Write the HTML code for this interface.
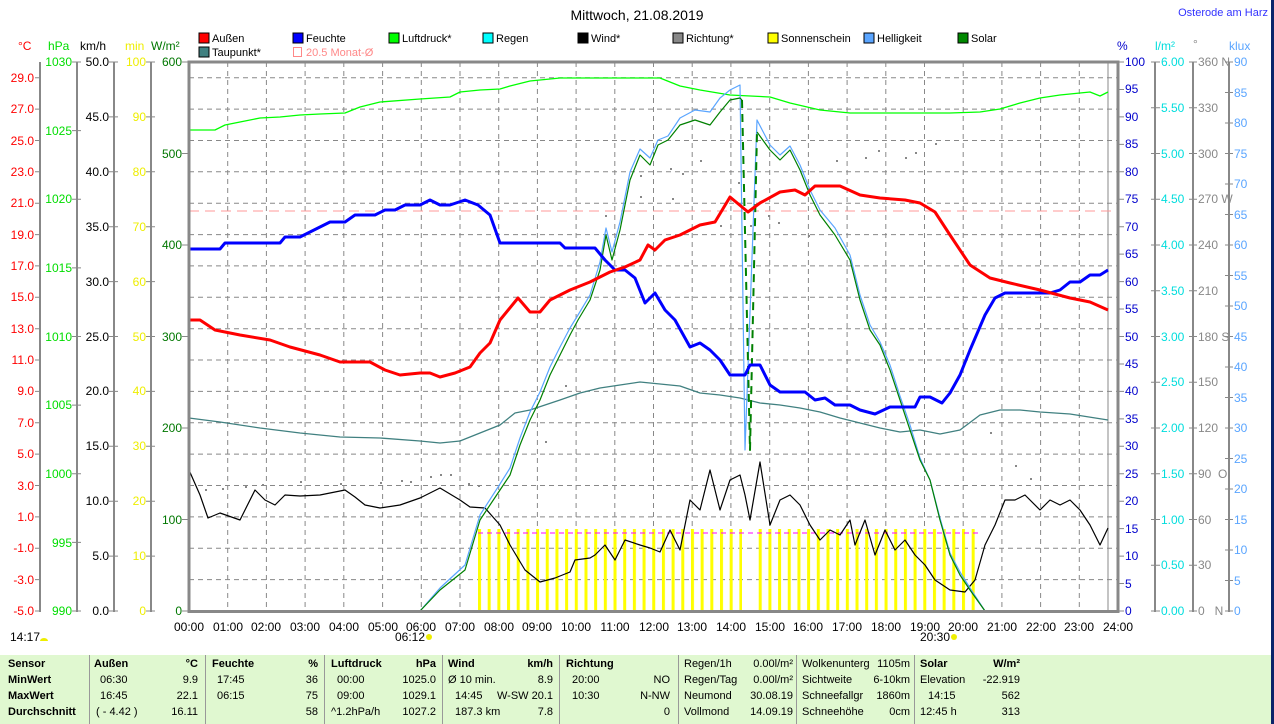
<!DOCTYPE html>
<html><head><meta charset="utf-8"><style>
body{margin:0;background:#fff;width:1274px;height:724px;overflow:hidden;position:relative;font-family:"Liberation Sans",sans-serif}
svg{position:absolute;left:0;top:0}
.tb{position:absolute;left:0;top:655px;width:1271px;height:69px;background:#e0f8d0;font-family:"Liberation Sans Narrow","Liberation Sans",sans-serif;font-size:11px}
.tb div{position:absolute;white-space:nowrap}
.b{font-weight:bold}
.r{text-align:right}
.v{top:0;height:69px;width:1px;background:#999}
</style></head><body>
<svg width="1274" height="724" font-family="Liberation Sans, sans-serif" font-size="12">
<rect x="1271" y="0" width="3" height="724" fill="#0a246a"/>
<text x="637" y="20" text-anchor="middle" font-size="14">Mittwoch, 21.08.2019</text>
<text x="1268" y="16" text-anchor="end" fill="#3333ff" font-size="11">Osterode am Harz</text>
<g font-size="11">
<rect x="199" y="33" width="10" height="10" fill="#f00" stroke="#000"/><text x="212" y="42">Außen</text>
<rect x="293" y="33" width="10" height="10" fill="#00f" stroke="#000"/><text x="306" y="42">Feuchte</text>
<rect x="389" y="33" width="10" height="10" fill="#0f0" stroke="#000"/><text x="402" y="42">Luftdruck*</text>
<rect x="483" y="33" width="10" height="10" fill="#0ff" stroke="#000"/><text x="496" y="42">Regen</text>
<rect x="578" y="33" width="10" height="10" fill="#000" stroke="#000"/><text x="591" y="42">Wind*</text>
<rect x="673" y="33" width="10" height="10" fill="#888" stroke="#000"/><text x="686" y="42">Richtung*</text>
<rect x="768" y="33" width="10" height="10" fill="#ff0" stroke="#000"/><text x="781" y="42">Sonnenschein</text>
<rect x="864" y="33" width="10" height="10" fill="#5aa5ff" stroke="#000"/><text x="877" y="42">Helligkeit</text>
<rect x="958" y="33" width="10" height="10" fill="#080" stroke="#000"/><text x="971" y="42">Solar</text>
<rect x="199" y="47" width="10" height="10" fill="#408080" stroke="#000"/><text x="212" y="56">Taupunkt*</text>
<rect x="293.5" y="47.5" width="8" height="9" fill="none" stroke="#f88"/><text x="306" y="56" fill="#f88">20.5 Monat-Ø</text>
</g>
<g font-size="12">
<text x="18" y="50" fill="#f00">°C</text>
<text x="48" y="50" fill="#0d0">hPa</text>
<text x="80" y="50" fill="#000">km/h</text>
<text x="125" y="50" fill="#ee0">min</text>
<text x="151" y="50" fill="#070">W/m²</text>
<text x="1117" y="50" fill="#00c">%</text>
<text x="1155" y="50" fill="#0dd">l/m²</text>
<text x="1193" y="48" fill="#888">°</text>
<text x="1229" y="50" fill="#5aa5ff">klux</text>
</g>
<g stroke="#888" stroke-width="2">
<line x1="40" y1="62" x2="40" y2="612"/><line x1="77" y1="62" x2="77" y2="612"/>
<line x1="114" y1="62" x2="114" y2="612"/><line x1="151" y1="62" x2="151" y2="612"/>
<line x1="1155" y1="62" x2="1155" y2="612"/><line x1="1193" y1="62" x2="1193" y2="612"/>
<line x1="1229" y1="62" x2="1229" y2="612"/>
</g>
<g fill="#f00" text-anchor="end">
<text x="34" y="615">-5.0</text><text x="34" y="584">-3.0</text><text x="34" y="552">-1.0</text><text x="34" y="521">1.0</text><text x="34" y="490">3.0</text><text x="34" y="458">5.0</text><text x="34" y="427">7.0</text><text x="34" y="395">9.0</text><text x="34" y="364">11.0</text><text x="34" y="333">13.0</text><text x="34" y="301">15.0</text><text x="34" y="270">17.0</text><text x="34" y="239">19.0</text><text x="34" y="207">21.0</text><text x="34" y="176">23.0</text><text x="34" y="145">25.0</text><text x="34" y="113">27.0</text><text x="34" y="82">29.0</text>
</g>
<g stroke="#888"><path d="M35 611H40M35 579.6H40M35 548.3H40M35 516.9H40M35 485.5H40M35 454.1H40M35 422.8H40M35 391.4H40M35 360H40M35 328.7H40M35 297.3H40M35 265.9H40M35 234.6H40M35 203.2H40M35 171.8H40M35 140.5H40M35 109.1H40M35 77.7H40"/>
<path d="M72 611H81M72 542.4H81M72 473.8H81M72 405.1H81M72 336.5H81M72 267.9H81M72 199.3H81M72 130.6H81M72 62H81"/>
<path d="M109 611H118M109 556.1H118M109 501.2H118M109 446.3H118M109 391.4H118M109 336.5H118M109 281.6H118M109 226.7H118M109 171.8H118M109 116.9H118M109 62H118"/>
<path d="M146 611H155M146 556.1H155M146 501.2H155M146 446.3H155M146 391.4H155M146 336.5H155M146 281.6H155M146 226.7H155M146 171.8H155M146 116.9H155M146 62H155"/>
<path d="M182 611H188M182 519.5H188M182 428H188M182 336.5H188M182 245H188M182 153.5H188M182 62H188"/>
<path d="M1118 611H1124M1118 583.55H1124M1118 556.1H1124M1118 528.65H1124M1118 501.2H1124M1118 473.75H1124M1118 446.3H1124M1118 418.85H1124M1118 391.4H1124M1118 363.95H1124M1118 336.5H1124M1118 309.05H1124M1118 281.6H1124M1118 254.15H1124M1118 226.7H1124M1118 199.25H1124M1118 171.8H1124M1118 144.35H1124M1118 116.9H1124M1118 89.45H1124M1118 62H1124"/>
<path d="M1151 611H1160M1151 565.25H1160M1151 519.5H1160M1151 473.75H1160M1151 428H1160M1151 382.25H1160M1151 336.5H1160M1151 290.75H1160M1151 245H1160M1151 199.25H1160M1151 153.5H1160M1151 107.75H1160M1151 62H1160"/>
<path d="M1189 611H1197M1189 565.25H1197M1189 519.5H1197M1189 473.75H1197M1189 428H1197M1189 382.25H1197M1189 336.5H1197M1189 290.75H1197M1189 245H1197M1189 199.25H1197M1189 153.5H1197M1189 107.75H1197M1189 62H1197"/>
<path d="M1225 611H1233M1225 580.5H1233M1225 550H1233M1225 519.5H1233M1225 489H1233M1225 458.5H1233M1225 428H1233M1225 397.5H1233M1225 367H1233M1225 336.5H1233M1225 306H1233M1225 275.5H1233M1225 245H1233M1225 214.5H1233M1225 184H1233M1225 153.5H1233M1225 123H1233M1225 92.5H1233M1225 62H1233"/>
</g>
<g fill="#0d0" text-anchor="end">
<text x="72" y="615">990</text><text x="72" y="547">995</text><text x="72" y="478">1000</text><text x="72" y="409">1005</text><text x="72" y="341">1010</text><text x="72" y="272">1015</text><text x="72" y="203">1020</text><text x="72" y="135">1025</text><text x="72" y="66">1030</text>
</g>
<g fill="#000" text-anchor="end">
<text x="109" y="615">0.0</text><text x="109" y="560">5.0</text><text x="109" y="505">10.0</text><text x="109" y="450">15.0</text><text x="109" y="395">20.0</text><text x="109" y="341">25.0</text><text x="109" y="286">30.0</text><text x="109" y="231">35.0</text><text x="109" y="176">40.0</text><text x="109" y="121">45.0</text><text x="109" y="66">50.0</text>
</g>
<g fill="#ee0" text-anchor="end">
<text x="146" y="615">0</text><text x="146" y="560">10</text><text x="146" y="505">20</text><text x="146" y="450">30</text><text x="146" y="395">40</text><text x="146" y="341">50</text><text x="146" y="286">60</text><text x="146" y="231">70</text><text x="146" y="176">80</text><text x="146" y="121">90</text><text x="146" y="66">100</text>
</g>
<g fill="#070" text-anchor="end">
<text x="182" y="615">0</text><text x="182" y="524">100</text><text x="182" y="432">200</text><text x="182" y="341">300</text><text x="182" y="249">400</text><text x="182" y="158">500</text><text x="182" y="66">600</text>
</g>
<g fill="#00c">
<text x="1125" y="615">0</text><text x="1125" y="588">5</text><text x="1125" y="560">10</text><text x="1125" y="533">15</text><text x="1125" y="505">20</text><text x="1125" y="478">25</text><text x="1125" y="450">30</text><text x="1125" y="423">35</text><text x="1125" y="395">40</text><text x="1125" y="368">45</text><text x="1125" y="341">50</text><text x="1125" y="313">55</text><text x="1125" y="286">60</text><text x="1125" y="258">65</text><text x="1125" y="231">70</text><text x="1125" y="203">75</text><text x="1125" y="176">80</text><text x="1125" y="148">85</text><text x="1125" y="121">90</text><text x="1125" y="93">95</text><text x="1125" y="66">100</text>
</g>
<g fill="#0dd">
<text x="1161" y="615">0.00</text><text x="1161" y="569">0.50</text><text x="1161" y="524">1.00</text><text x="1161" y="478">1.50</text><text x="1161" y="432">2.00</text><text x="1161" y="386">2.50</text><text x="1161" y="341">3.00</text><text x="1161" y="295">3.50</text><text x="1161" y="249">4.00</text><text x="1161" y="203">4.50</text><text x="1161" y="158">5.00</text><text x="1161" y="112">5.50</text><text x="1161" y="66">6.00</text>
</g>
<g fill="#888">
<text x="1198" y="615">0&#160;&#160;&#160;N</text><text x="1198" y="569">30</text><text x="1198" y="524">60</text><text x="1198" y="478">90&#160;&#160;O</text><text x="1198" y="432">120</text><text x="1198" y="386">150</text><text x="1198" y="341">180 S</text><text x="1198" y="295">210</text><text x="1198" y="249">240</text><text x="1198" y="203">270 W</text><text x="1198" y="158">300</text><text x="1198" y="112">330</text><text x="1198" y="66">360 N</text>
</g>
<g fill="#5aa5ff">
<text x="1234" y="615">0</text><text x="1234" y="585">5</text><text x="1234" y="554">10</text><text x="1234" y="524">15</text><text x="1234" y="493">20</text><text x="1234" y="463">25</text><text x="1234" y="432">30</text><text x="1234" y="402">35</text><text x="1234" y="371">40</text><text x="1234" y="341">45</text><text x="1234" y="310">50</text><text x="1234" y="280">55</text><text x="1234" y="249">60</text><text x="1234" y="219">65</text><text x="1234" y="188">70</text><text x="1234" y="158">75</text><text x="1234" y="127">80</text><text x="1234" y="97">85</text><text x="1234" y="66">90</text>
</g>
<g stroke="#888" stroke-dasharray="5,4" stroke-width="1">
<path d="M227.7 62V611M266.4 62V611M305.1 62V611M343.8 62V611M382.6 62V611M421.3 62V611M460 62V611M498.7 62V611M537.4 62V611M576.1 62V611M614.8 62V611M653.5 62V611M692.2 62V611M730.9 62V611M769.7 62V611M808.4 62V611M847.1 62V611M885.8 62V611M924.5 62V611M963.2 62V611M1001.9 62V611M1040.6 62V611M1079.3 62V611"/>
<path d="M189 579.6H1118M189 548.3H1118M189 516.9H1118M189 485.5H1118M189 454.1H1118M189 422.8H1118M189 391.4H1118M189 360H1118M189 328.7H1118M189 297.3H1118M189 265.9H1118M189 234.6H1118M189 203.2H1118M189 171.8H1118M189 140.5H1118M189 109.1H1118M189 77.7H1118"/>
</g>
<line x1="1108" y1="62" x2="1108" y2="611" stroke="#888"/>
<defs><pattern id="sb" x="478" y="0" width="9.68" height="724" patternUnits="userSpaceOnUse"><rect x="0" y="0" width="3" height="724" fill="#ff0"/></pattern></defs>
<rect x="478" y="529" width="264" height="82" fill="url(#sb)"/>
<rect x="758" y="529" width="220" height="82" fill="url(#sb)"/>
<line x1="478" y1="533" x2="978" y2="533" stroke="#f0f" stroke-dasharray="5,4"/>
<line x1="189" y1="211" x2="1118" y2="211" stroke="#f99" stroke-dasharray="10,6"/>
<g fill="#888">
<rect x="205" y="489" width="2" height="2"/><rect x="222" y="488" width="2" height="2"/><rect x="245" y="486" width="2" height="2"/><rect x="262" y="484" width="2" height="2"/><rect x="300" y="481" width="2" height="2"/><rect x="340" y="483" width="2" height="2"/><rect x="380" y="482" width="2" height="2"/><rect x="401" y="480" width="2" height="2"/><rect x="410" y="481" width="2" height="2"/><rect x="430" y="476" width="2" height="2"/><rect x="440" y="474" width="2" height="2"/><rect x="450" y="474" width="2" height="2"/><rect x="468" y="483" width="2" height="2"/><rect x="478" y="485" width="2" height="2"/><rect x="545" y="441" width="2" height="2"/><rect x="565" y="385" width="2" height="2"/><rect x="605" y="215" width="2" height="2"/><rect x="640" y="175" width="2" height="2"/><rect x="670" y="168" width="2" height="2"/><rect x="700" y="160" width="2" height="2"/><rect x="672" y="198" width="2" height="2"/><rect x="682" y="173" width="2" height="2"/><rect x="640" y="196" width="2" height="2"/><rect x="653" y="250" width="2" height="2"/><rect x="720" y="225" width="2" height="2"/><rect x="738" y="182" width="2" height="2"/><rect x="750" y="225" width="2" height="2"/><rect x="768" y="215" width="2" height="2"/><rect x="778" y="222" width="2" height="2"/><rect x="808" y="235" width="2" height="2"/><rect x="836" y="160" width="2" height="2"/><rect x="865" y="157" width="2" height="2"/><rect x="878" y="150" width="2" height="2"/><rect x="905" y="157" width="2" height="2"/><rect x="915" y="152" width="2" height="2"/><rect x="935" y="143" width="2" height="2"/><rect x="990" y="432" width="2" height="2"/><rect x="1015" y="465" width="2" height="2"/><rect x="1030" y="478" width="2" height="2"/></g>
<g fill="none" stroke-linejoin="round">
<polyline stroke="#00ff00" stroke-width="1.3" points="189,130 215,130 225,125 240,122 260,118 280,117 300,115 320,114 345,113 360,107 380,102 420,99 450,97 460,92 480,90 500,89 510,86 530,81 560,78 660,78 680,86 700,90 730,95 770,97 790,103 820,110 850,113 900,113 950,113 980,112 1000,109 1020,103 1040,98 1060,95 1090,92 1100,96 1108,92"/>
<polyline stroke="#408080" stroke-width="1.3" points="189,418 220,422 260,428 300,433 340,437 380,438 420,441 440,443 460,441 480,433 500,425 515,413 530,410 545,405 560,400 580,393 600,388 620,385 640,382 660,384 680,386 700,393 720,395 740,398 760,403 780,405 800,408 820,412 840,418 860,423 880,428 900,432 920,430 940,434 960,430 980,415 1000,410 1020,410 1040,412 1070,414 1108,420"/>
<polyline stroke="#000" stroke-width="1.2" points="189,470 200,495 208,518 220,513 240,520 255,490 265,500 275,505 285,495 300,496 320,495 345,490 355,497 365,505 380,508 400,505 420,498 440,488 460,500 470,507 485,508 500,525 510,545 525,570 540,582 555,578 570,572 575,560 590,558 595,555 605,545 615,560 625,540 640,545 650,548 660,552 670,530 680,550 690,500 700,510 710,470 720,510 730,480 740,475 745,495 750,520 760,462 770,525 780,500 790,495 800,505 810,525 820,540 830,530 840,535 850,520 855,545 865,520 875,555 885,530 895,550 905,540 915,555 925,565 935,580 950,590 965,592 975,580 985,545 995,525 1005,500 1015,500 1025,495 1040,510 1050,500 1060,505 1070,500 1080,510 1090,525 1100,545 1108,528"/>
<polyline stroke="#5aa5ff" stroke-width="1.2" points="420,611 440,588 465,565 480,515 500,484 510,468 520,438 530,412 540,392 550,367 560,347 570,328 578,315 590,295 600,262 606,228 612,252 620,222 630,172 640,149 650,158 658,140 668,136 680,118 695,110 710,112 720,98 730,90 740,85 745,450 757,120 770,145 780,155 790,146 800,165 810,190 820,210 835,228 850,255 860,295 870,325 880,342 890,365 900,396 910,425 920,458 930,480 940,518 950,553 960,572 970,588 985,611"/>
<polyline stroke="#008000" stroke-width="1.2" points="189,611 420,611 440,590 465,570 480,520 500,490 510,475 520,445 530,420 540,400 550,375 560,355 570,335 578,320 590,300 600,270 606,235 612,260 620,230 630,180 640,155 650,165 658,145 668,140 680,125 695,120 710,125 720,112 730,100 740,98 742,100"/>
<polyline stroke="#008000" stroke-width="2" stroke-dasharray="8,6" points="742,100 750,450 757,132"/>
<polyline stroke="#008000" stroke-width="1.2" points="757,132 770,150 780,160 790,150 800,170 810,195 820,215 835,235 850,260 860,300 870,330 880,345 890,370 900,400 910,430 920,460 930,480 940,520 950,555 960,575 970,590 985,611 1108,611"/>
<polyline stroke="#00f" stroke-width="3" points="189,249 220,249 225,243 280,243 285,237 300,237 320,227 330,222 345,222 355,215 375,215 385,210 395,210 405,205 420,205 430,200 440,205 450,205 465,200 478,205 490,215 500,243 560,243 565,248 595,248 605,260 615,270 625,270 635,278 645,303 655,293 665,310 675,320 690,347 700,343 710,350 720,360 730,375 745,375 750,365 760,365 770,385 780,392 805,392 815,400 825,398 835,405 850,405 860,410 875,414 890,407 915,407 920,397 930,397 942,403 950,393 960,375 970,350 985,315 995,298 1005,293 1050,293 1060,290 1070,282 1080,282 1090,275 1100,275 1108,270"/>
<polyline stroke="#f00" stroke-width="3" points="189,320 200,320 215,330 240,335 270,340 290,347 320,355 340,362 370,362 385,370 400,375 420,373 430,373 440,377 455,373 470,367 480,353 490,343 500,320 518,298 530,312 540,312 550,300 570,290 590,282 610,272 625,267 640,260 648,245 655,250 665,240 680,235 700,225 715,222 730,197 748,212 760,203 780,192 795,190 805,195 815,186 840,186 860,195 880,198 905,200 920,203 935,212 950,235 970,265 990,278 1010,283 1040,290 1070,298 1090,302 1108,310"/>
</g>
<rect x="189" y="62" width="929" height="549.5" fill="none" stroke="#888" stroke-width="3"/>
<g text-anchor="middle" font-size="12">
<text x="189" y="631">00:00</text><text x="228" y="631">01:00</text><text x="266" y="631">02:00</text><text x="305" y="631">03:00</text><text x="344" y="631">04:00</text><text x="383" y="631">05:00</text><text x="421" y="631">06:00</text><text x="460" y="631">07:00</text><text x="499" y="631">08:00</text><text x="537" y="631">09:00</text><text x="576" y="631">10:00</text><text x="615" y="631">11:00</text><text x="654" y="631">12:00</text><text x="692" y="631">13:00</text><text x="731" y="631">14:00</text><text x="770" y="631">15:00</text><text x="808" y="631">16:00</text><text x="847" y="631">17:00</text><text x="886" y="631">18:00</text><text x="925" y="631">19:00</text><text x="963" y="631">20:00</text><text x="1002" y="631">21:00</text><text x="1041" y="631">22:00</text><text x="1079" y="631">23:00</text><text x="1118" y="631">24:00</text>
</g>
<text x="410" y="641" text-anchor="middle" font-size="12">06:12</text>
<circle cx="429" cy="637" r="3" fill="#ee0"/>
<text x="935" y="641" text-anchor="middle" font-size="12">20:30</text>
<circle cx="954" cy="637" r="3" fill="#ee0"/>
<text x="10" y="641" font-size="12">14:17</text>
<path d="M40 641a4 3 0 0 1 8 0z" fill="#ee0"/>
</svg>
<div class="tb">
<div class="v" style="left:89px"></div><div class="v" style="left:205px"></div><div class="v" style="left:324px"></div><div class="v" style="left:442px"></div><div class="v" style="left:559px"></div><div class="v" style="left:678px"></div><div class="v" style="left:796px"></div><div class="v" style="left:914px"></div>
<div class="b" style="left:8px;top:3px">Sensor</div><div class="b" style="left:8px;top:19px">MinWert</div><div class="b" style="left:8px;top:35px">MaxWert</div><div class="b" style="left:8px;top:51px">Durchschnitt</div>
<div class="b" style="left:94px;top:3px">Außen</div><div class="b r" style="left:150px;width:48px;top:3px">°C</div>
<div style="left:100px;top:19px">06:30</div><div class="r" style="left:150px;width:48px;top:19px">9.9</div>
<div style="left:100px;top:35px">16:45</div><div class="r" style="left:150px;width:48px;top:35px">22.1</div>
<div style="left:96px;top:51px">( - 4.42 )</div><div class="r" style="left:150px;width:48px;top:51px">16.11</div>
<div class="b" style="left:212px;top:3px">Feuchte</div><div class="b r" style="left:270px;width:48px;top:3px">%</div>
<div style="left:217px;top:19px">17:45</div><div class="r" style="left:270px;width:48px;top:19px">36</div>
<div style="left:217px;top:35px">06:15</div><div class="r" style="left:270px;width:48px;top:35px">75</div>
<div class="r" style="left:270px;width:48px;top:51px">58</div>
<div class="b" style="left:331px;top:3px">Luftdruck</div><div class="b r" style="left:390px;width:46px;top:3px">hPa</div>
<div style="left:337px;top:19px">00:00</div><div class="r" style="left:390px;width:46px;top:19px">1025.0</div>
<div style="left:337px;top:35px">09:00</div><div class="r" style="left:390px;width:46px;top:35px">1029.1</div>
<div style="left:331px;top:51px">^1.2hPa/h</div><div class="r" style="left:390px;width:46px;top:51px">1027.2</div>
<div class="b" style="left:448px;top:3px">Wind</div><div class="b r" style="left:505px;width:48px;top:3px">km/h</div>
<div style="left:448px;top:19px">Ø 10 min.</div><div class="r" style="left:505px;width:48px;top:19px">8.9</div>
<div style="left:455px;top:35px">14:45</div><div class="r" style="left:480px;width:73px;top:35px">W-SW 20.1</div>
<div style="left:455px;top:51px">187.3 km</div><div class="r" style="left:505px;width:48px;top:51px">7.8</div>
<div class="b" style="left:566px;top:3px">Richtung</div>
<div style="left:572px;top:19px">20:00</div><div class="r" style="left:620px;width:50px;top:19px">NO</div>
<div style="left:572px;top:35px">10:30</div><div class="r" style="left:620px;width:50px;top:35px">N-NW</div>
<div class="r" style="left:620px;width:50px;top:51px">0</div>
<div style="left:684px;top:3px">Regen/1h</div><div class="r" style="left:730px;width:63px;top:3px">0.00l/m²</div>
<div style="left:684px;top:19px">Regen/Tag</div><div class="r" style="left:730px;width:63px;top:19px">0.00l/m²</div>
<div style="left:684px;top:35px">Neumond</div><div class="r" style="left:730px;width:63px;top:35px">30.08.19</div>
<div style="left:684px;top:51px">Vollmond</div><div class="r" style="left:730px;width:63px;top:51px">14.09.19</div>
<div style="left:802px;top:3px">Wolkenunterg</div><div class="r" style="left:860px;width:50px;top:3px">1105m</div>
<div style="left:802px;top:19px">Sichtweite</div><div class="r" style="left:860px;width:50px;top:19px">6-10km</div>
<div style="left:802px;top:35px">Schneefallgr</div><div class="r" style="left:860px;width:50px;top:35px">1860m</div>
<div style="left:802px;top:51px">Schneehöhe</div><div class="r" style="left:860px;width:50px;top:51px">0cm</div>
<div class="b" style="left:920px;top:3px">Solar</div><div class="b r" style="left:970px;width:50px;top:3px">W/m²</div>
<div style="left:920px;top:19px">Elevation</div><div class="r" style="left:970px;width:50px;top:19px">-22.919</div>
<div style="left:928px;top:35px">14:15</div><div class="r" style="left:970px;width:50px;top:35px">562</div>
<div style="left:920px;top:51px">12:45 h</div><div class="r" style="left:970px;width:50px;top:51px">313</div>
</div>
</body></html>
